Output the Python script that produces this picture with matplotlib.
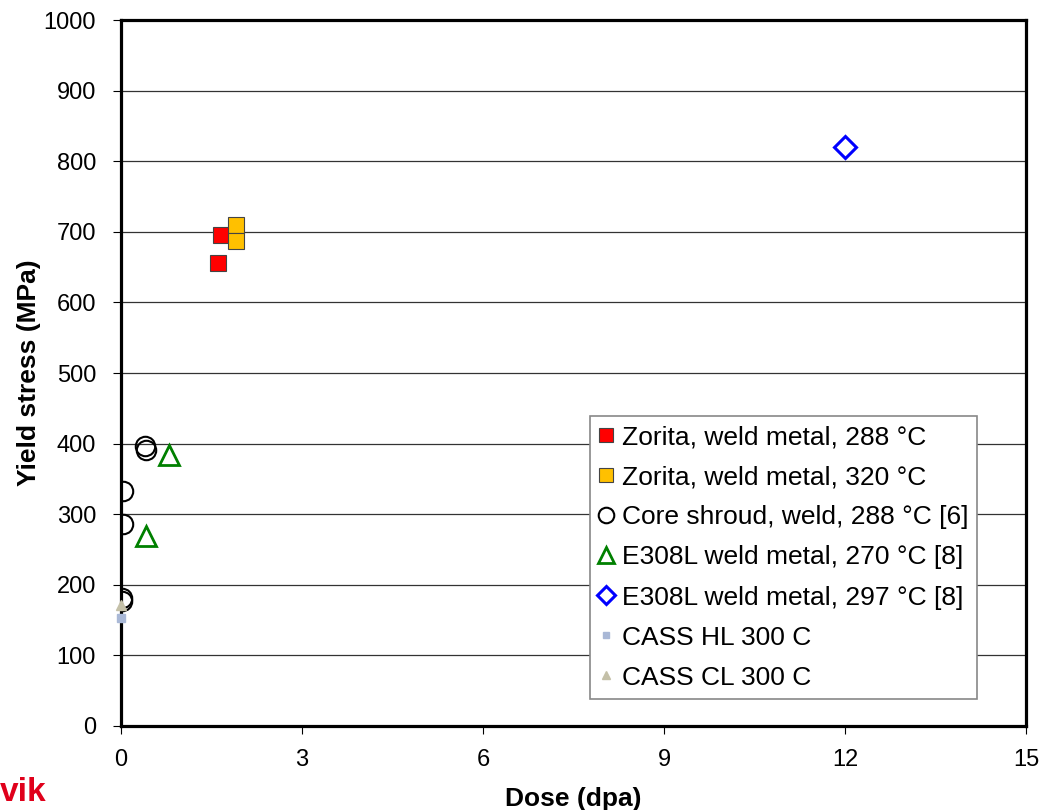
import matplotlib
matplotlib.use('Agg')
from matplotlib import pyplot as plt

plt.rcParams['font.family'] = ['Liberation Sans', 'DejaVu Sans']

# Zorita, weld metal, 288 C
zor288_x = [1.61, 1.66]
zor288_y = [656, 695]
# Zorita, weld metal, 320 C
zor320_x = [1.90, 1.90]
zor320_y = [710, 687]
# Core shroud, weld, 288 C [6]
core_x = [0.40, 0.42, 0.03, 0.03, 0.01, 0.02]
core_y = [396, 391, 333, 286, 181, 177]
# E308L weld metal, 270 C [8]
e270_x = [0.80, 0.41]
e270_y = [384, 269]
# E308L weld metal, 297 C [8]
e297_x = [12.0]
e297_y = [821]
# CASS
hl_x, hl_y = [0.0], [153]
cl_x, cl_y = [0.0], [171]

fig = plt.figure(figsize=(10.43, 8.1), dpi=100)
ax = fig.add_axes([0.116, 0.104, 0.868, 0.871])

ax.plot(zor288_x, zor288_y, 's', ms=12, mfc='#ff0000', mec='#444444', mew=0.8,
        label='Zorita, weld metal, 288 °C', zorder=3)
ax.plot(zor320_x, zor320_y, 's', ms=12, mfc='#ffc000', mec='#444444', mew=0.8,
        label='Zorita, weld metal, 320 °C', zorder=3)
ax.plot(core_x, core_y, 'o', ms=14, mfc='none', mec='black', mew=1.5,
        label='Core shroud, weld, 288 °C [6]', zorder=3)
ax.plot(e270_x, e270_y, '^', ms=15, mfc='none', mec='#008000', mew=2,
        label='E308L weld metal, 270 °C [8]', zorder=3)
ax.plot(e297_x, e297_y, 'D', ms=11, mfc='none', mec='#0000ff', mew=2.2,
        label='E308L weld metal, 297 °C [8]', zorder=3)
ax.plot(hl_x, hl_y, 's', ms=6, mfc='#a9b8d6', mec='#a9b8d6',
        label='CASS HL 300 C', zorder=4, clip_on=False)
ax.plot(cl_x, cl_y, '^', ms=7, mfc='#c4c0a8', mec='#c4c0a8',
        label='CASS CL 300 C', zorder=4, clip_on=False)

ax.set_xlim(0, 15)
ax.set_ylim(0, 1000)
ax.set_xticks(range(0, 16, 3))
ax.set_yticks(range(0, 1001, 100))
ax.yaxis.grid(True, color='#333333', linewidth=0.9)
ax.set_axisbelow(True)
for s in ax.spines.values():
    s.set_linewidth(2.3)
ax.tick_params(labelsize=17, width=0.8, length=6, direction='out')
ax.tick_params(axis='x', pad=11)
ax.tick_params(axis='y', pad=12)

ax.set_xlabel('Dose (dpa)', fontsize=19, fontweight='bold', labelpad=11)
ax.set_ylabel('Yield stress (MPa)', fontsize=19, fontweight='bold', labelpad=2)

leg = ax.legend(loc='lower left', bbox_to_anchor=(0.518, 0.038, 0.427, 0.402),
                mode='expand', fontsize=19, frameon=True, fancybox=False,
                framealpha=1, edgecolor='#888888', handlelength=0.55,
                handletextpad=0.3, borderaxespad=0, labelspacing=0.61,
                markerscale=0.8, borderpad=0.35)
leg.get_frame().set_linewidth(1.2)
leg.set_zorder(5)

fig.text(0.0, 0.002, 'vik', color='#e0001b', fontsize=24, fontweight='bold',
         va='bottom')

fig.savefig('out.png', dpi=100)
